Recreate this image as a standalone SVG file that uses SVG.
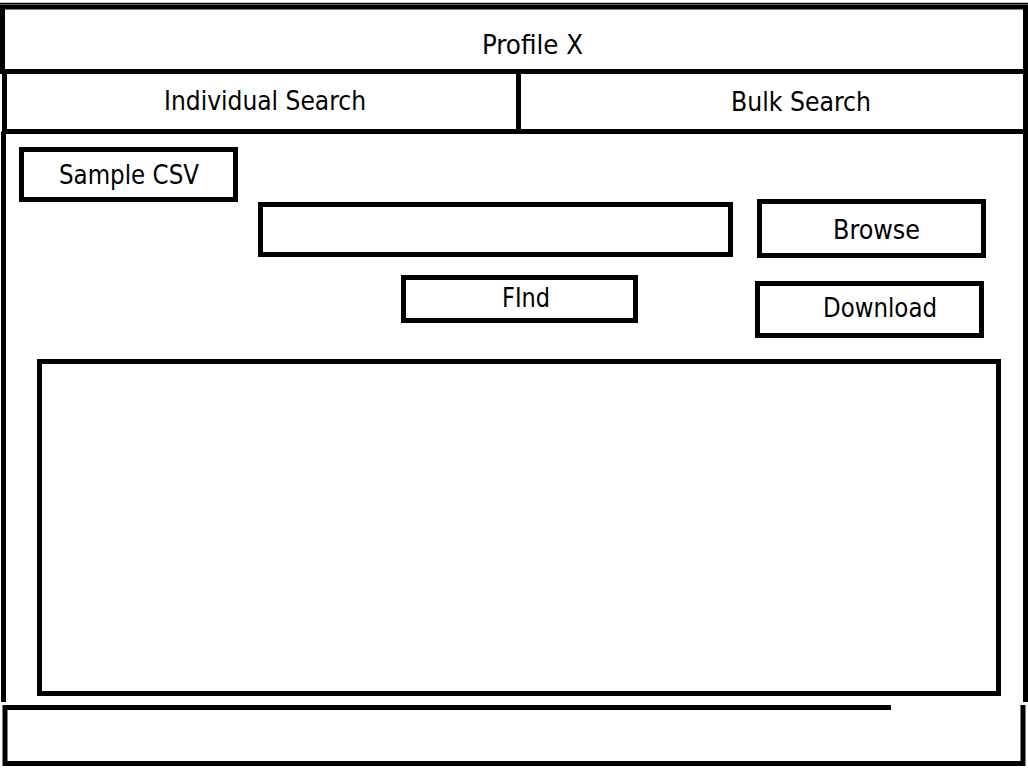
<svg xmlns="http://www.w3.org/2000/svg" width="1028" height="768" viewBox="0 0 1028 768">
<style>
.box{fill:none;stroke:#000;stroke-width:5}
.ln{fill:none;stroke:#000;stroke-width:5}
.t{font-family:"DejaVu Sans Condensed","DejaVu Sans",sans-serif;font-stretch:condensed;font-size:27px;fill:#000}
</style>
<rect width="1028" height="768" fill="#fff"/>
<g id="frame">
<line x1="0" y1="3.5" x2="1028" y2="3.5" stroke="#000" stroke-width="1.5"/>
<line class="ln" x1="3.5" y1="131.5" x2="3.5" y2="702"/>
<line class="ln" x1="1025.5" y1="131.5" x2="1025.5" y2="702"/>
</g>
<g id="header">
<rect class="box" x="2.5" y="7" width="1023" height="64.5"/>
<text class="t" x="482" y="54" textLength="101" lengthAdjust="spacingAndGlyphs">Profile X</text>
</g>
<g id="tab-individual">
<rect class="box" x="4.5" y="71.5" width="514" height="60"/>
<text class="t" x="164" y="110" textLength="202" lengthAdjust="spacingAndGlyphs">Individual Search</text>
</g>
<g id="tab-bulk">
<rect class="box" x="518.5" y="71.5" width="507" height="60"/>
<text class="t" x="731" y="111" textLength="140" lengthAdjust="spacingAndGlyphs">Bulk Search</text>
</g>
<g id="sample-csv">
<rect class="box" x="21.5" y="149.5" width="214" height="50"/>
<text class="t" x="59" y="184" textLength="140" lengthAdjust="spacingAndGlyphs">Sample CSV</text>
</g>
<g id="file-input">
<rect class="box" x="260.5" y="204.5" width="470" height="50"/>
</g>
<g id="browse">
<rect class="box" x="759.5" y="201.5" width="224" height="54"/>
<text class="t" x="833" y="239" textLength="87" lengthAdjust="spacingAndGlyphs">Browse</text>
</g>
<g id="find">
<rect class="box" x="403.5" y="277.5" width="232" height="43"/>
<text class="t" x="502" y="307" textLength="48" lengthAdjust="spacingAndGlyphs">FInd</text>
</g>
<g id="download">
<rect class="box" x="757.5" y="283.5" width="224" height="52"/>
<text class="t" x="823" y="317" textLength="114" lengthAdjust="spacingAndGlyphs">Download</text>
</g>
<g id="results">
<rect class="box" x="39.5" y="361.5" width="959" height="332"/>
</g>
<g id="footer">
<path class="ln" d="M891,707.5 H5 V763.5 H1023 V705"/>
</g>
<g id="connectors"></g>
</svg>
